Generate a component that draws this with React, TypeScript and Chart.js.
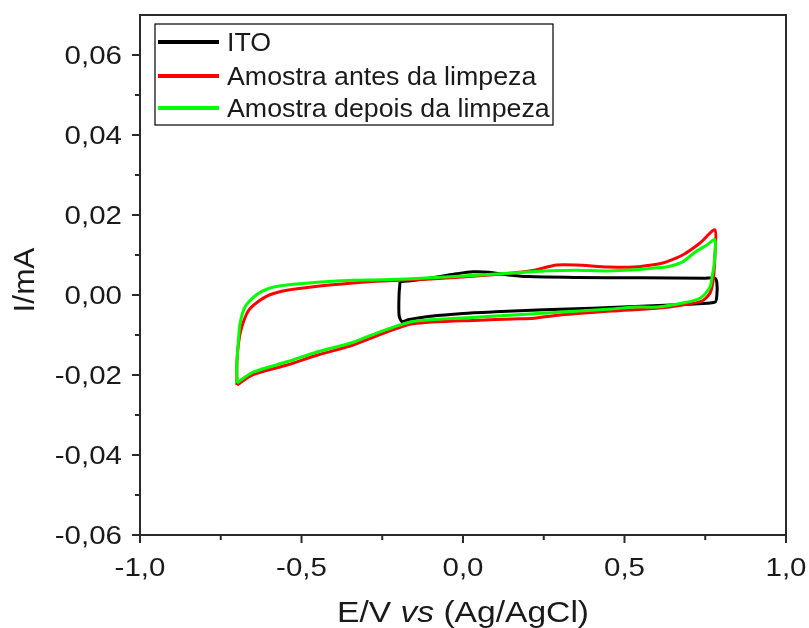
import React, { useEffect, useRef } from "react";
import { Chart, registerables } from "chart.js";

Chart.register(...registerables);

// ---- data (E / V vs Ag/AgCl, I / mA) ----
const itoX = [-0.195, -0.15, -0.08, -0.02, 0.03, 0.08, 0.14, 0.2, 0.35, 0.55, 0.75, 0.78, 0.786, 0.786, 0.78, 0.7, 0.55, 0.4, 0.25, 0.1, 0.0, -0.1, -0.17, -0.19, -0.198, -0.198, -0.195];
const itoY = [0.0033, 0.0037, 0.0045, 0.0053, 0.0058, 0.0057, 0.005, 0.0046, 0.0044, 0.0043, 0.0042, 0.0042, 0.003, 0.0, -0.0018, -0.0023, -0.0028, -0.0033, -0.0037, -0.0042, -0.0046, -0.0053, -0.0062, -0.0066, -0.005, 0.0, 0.0033];

const antesX = [-0.70, -0.70, -0.695, -0.685, -0.665, -0.64, -0.60, -0.545, -0.45, -0.34, -0.25, -0.1, 0.05, 0.155, 0.22, 0.29, 0.35, 0.45, 0.53, 0.6, 0.63, 0.68, 0.734, 0.78, 0.78, 0.775, 0.765, 0.74, 0.68, 0.6, 0.46, 0.3, 0.22, 0.155, 0.05, -0.155, -0.257, -0.34, -0.45, -0.545, -0.65, -0.70];
const antesY = [-0.0225, -0.017, -0.012, -0.008, -0.004, -0.002, 0.0, 0.0012, 0.0022, 0.003, 0.0035, 0.004, 0.0048, 0.0055, 0.0062, 0.0075, 0.0075, 0.007, 0.007, 0.0077, 0.0083, 0.010, 0.013, 0.0163, 0.010, 0.004, 0.0005, -0.0015, -0.0025, -0.0033, -0.004, -0.005, -0.0058, -0.006, -0.0063, -0.0072, -0.0099, -0.0125, -0.015, -0.0175, -0.0199, -0.0225];

const depoisX = [-0.70, -0.70, -0.695, -0.69, -0.675, -0.64, -0.60, -0.545, -0.45, -0.34, -0.25, -0.1, 0.05, 0.155, 0.25, 0.35, 0.45, 0.53, 0.6, 0.63, 0.68, 0.72, 0.755, 0.78, 0.778, 0.77, 0.765, 0.734, 0.68, 0.6, 0.53, 0.46, 0.26, 0.155, 0.05, -0.155, -0.257, -0.34, -0.45, -0.545, -0.65, -0.70];
const depoisY = [-0.022, -0.017, -0.011, -0.007, -0.003, 0.0, 0.0017, 0.0025, 0.0032, 0.0037, 0.0038, 0.0043, 0.005, 0.0055, 0.006, 0.0062, 0.006, 0.0063, 0.0068, 0.007, 0.0083, 0.0108, 0.0125, 0.0138, 0.008, 0.004, 0.002, -0.0008, -0.002, -0.003, -0.003, -0.0035, -0.0045, -0.005, -0.0055, -0.0066, -0.0092, -0.0118, -0.0142, -0.0167, -0.0193, -0.022];

const seriesNames = ["ITO", "Amostra antes da limpeza", "Amostra depois da limpeza"];
const seriesColors = ["#000000", "#ff0000", "#00ff00"];

const xMajor = [-1.0, -0.5, 0.0, 0.5, 1.0];
const xMinor = [-0.75, -0.25, 0.25, 0.75];
const yMajor = [-0.06, -0.04, -0.02, 0.0, 0.02, 0.04, 0.06];
const yMinor = [-0.05, -0.03, -0.01, 0.01, 0.03, 0.05];

const FONT = '"Liberation Sans", Arial, Helvetica, sans-serif';

const toPts = (xs: number[], ys: number[]) => xs.map((x, i) => ({ x, y: ys[i] }));

function drawText(ctx: CanvasRenderingContext2D, text: string, x: number, y: number, font: string, align: CanvasTextAlign, sx: number) {
  ctx.save();
  ctx.font = font;
  ctx.translate(x, y);
  ctx.scale(sx, 1);
  ctx.textAlign = align;
  ctx.textBaseline = "alphabetic";
  ctx.fillStyle = "#1a1a1a";
  ctx.fillText(text, 0, 0);
  ctx.restore();
}

const decor = {
  id: "decor",
  afterDraw(chart: any) {
    const ctx: CanvasRenderingContext2D = chart.ctx;
    const { left, right, top, bottom } = chart.chartArea;
    const xs = chart.scales.x;
    const ys = chart.scales.y;
    ctx.save();
    ctx.strokeStyle = "#2a2a2a";
    ctx.lineWidth = 2;
    // frame
    ctx.beginPath();
    ctx.moveTo(left, bottom);
    ctx.lineTo(left, top);
    ctx.lineTo(right, top);
    ctx.lineTo(right, bottom);
    ctx.lineTo(left, bottom);
    ctx.stroke();
    // ticks
    ctx.beginPath();
    xMajor.forEach((v) => { const p = xs.getPixelForValue(v); ctx.moveTo(p, bottom); ctx.lineTo(p, bottom + 8); });
    xMinor.forEach((v) => { const p = xs.getPixelForValue(v); ctx.moveTo(p, bottom); ctx.lineTo(p, bottom + 5); });
    yMajor.forEach((v) => { const p = ys.getPixelForValue(v); ctx.moveTo(left, p); ctx.lineTo(left - 8, p); });
    yMinor.forEach((v) => { const p = ys.getPixelForValue(v); ctx.moveTo(left, p); ctx.lineTo(left - 5, p); });
    ctx.stroke();

    const tickFont = `25px ${FONT}`;
    xMajor.forEach((v) => {
      drawText(ctx, v.toFixed(1).replace(".", ","), xs.getPixelForValue(v), bottom + 41, tickFont, "center", 1.18);
    });
    yMajor.forEach((v) => {
      const s = (Math.abs(v) < 1e-9 ? 0 : v).toFixed(2).replace(".", ",");
      drawText(ctx, s, left - 18, ys.getPixelForValue(v) + 9, tickFont, "right", 1.18);
    });

    // y title
    ctx.save();
    ctx.translate(34, (top + bottom) / 2 + 5);
    ctx.rotate(-Math.PI / 2);
    drawText(ctx, "I/mA", 0, 0, `30px ${FONT}`, "center", 1.05);
    ctx.restore();

    // x title with italic "vs"
    const sx = 1.12;
    const normal = `30px ${FONT}`;
    const ital = `italic 30px ${FONT}`;
    const parts: [string, string][] = [["E/V ", normal], ["vs", ital], [" (Ag/AgCl)", normal]];
    let total = 0;
    const widths = parts.map(([t, f]) => { ctx.font = f; const w = ctx.measureText(t).width * sx; total += w; return w; });
    let cx = (left + right) / 2 - total / 2;
    parts.forEach(([t, f], i) => { drawText(ctx, t, cx, 622, f, "left", sx); cx += widths[i]; });

    // legend
    const lx = left + 15, ly = top + 9, lw = 398, lh = 101;
    ctx.lineWidth = 1.2;
    ctx.strokeStyle = "#000";
    ctx.strokeRect(lx, ly, lw, lh);
    const rowY = [ly + 18, ly + 52, ly + 84];
    seriesNames.forEach((name, i) => {
      ctx.beginPath();
      ctx.strokeStyle = seriesColors[i];
      ctx.lineWidth = 4;
      ctx.moveTo(lx + 3, rowY[i]);
      ctx.lineTo(lx + 64, rowY[i]);
      ctx.stroke();
      drawText(ctx, name, lx + 72, rowY[i] + 9, `25px ${FONT}`, "left", 1.07);
    });
    ctx.restore();
  },
};

export default function App() {
  const ref = useRef<HTMLCanvasElement | null>(null);
  useEffect(() => {
    if (!ref.current) return;
    const mk = (i: number, xs: number[], ys: number[], order: number) => ({
      label: seriesNames[i],
      data: toPts(xs, ys),
      showLine: true,
      borderColor: seriesColors[i],
      backgroundColor: seriesColors[i],
      borderWidth: 3,
      pointRadius: 0,
      tension: 0.25,
      order,
    });
    const chart = new Chart(ref.current, {
      type: "scatter",
      data: {
        datasets: [
          mk(0, itoX, itoY, 3),
          mk(1, antesX, antesY, 2),
          mk(2, depoisX, depoisY, 1),
        ],
      },
      plugins: [decor],
      options: {
        responsive: false,
        animation: false,
        layout: { padding: { left: 0, top: 15, right: 23, bottom: 0 } },
        plugins: { legend: { display: false }, tooltip: { enabled: false } },
        scales: {
          x: {
            type: "linear",
            min: -1,
            max: 1,
            ticks: { display: false },
            grid: { display: false },
            border: { display: false },
            afterFit: (s: any) => { s.height = 93; },
          },
          y: {
            type: "linear",
            min: -0.06,
            max: 0.07,
            ticks: { display: false },
            grid: { display: false },
            border: { display: false },
            afterFit: (s: any) => { s.width = 140; },
          },
        },
      },
    } as any);
    return () => chart.destroy();
  }, []);
  return (
    <div style={{ position: "absolute", left: 0, top: 0, width: 809, height: 628, background: "#fff" }}>
      <canvas ref={ref} width={809} height={628} />
    </div>
  );
}
